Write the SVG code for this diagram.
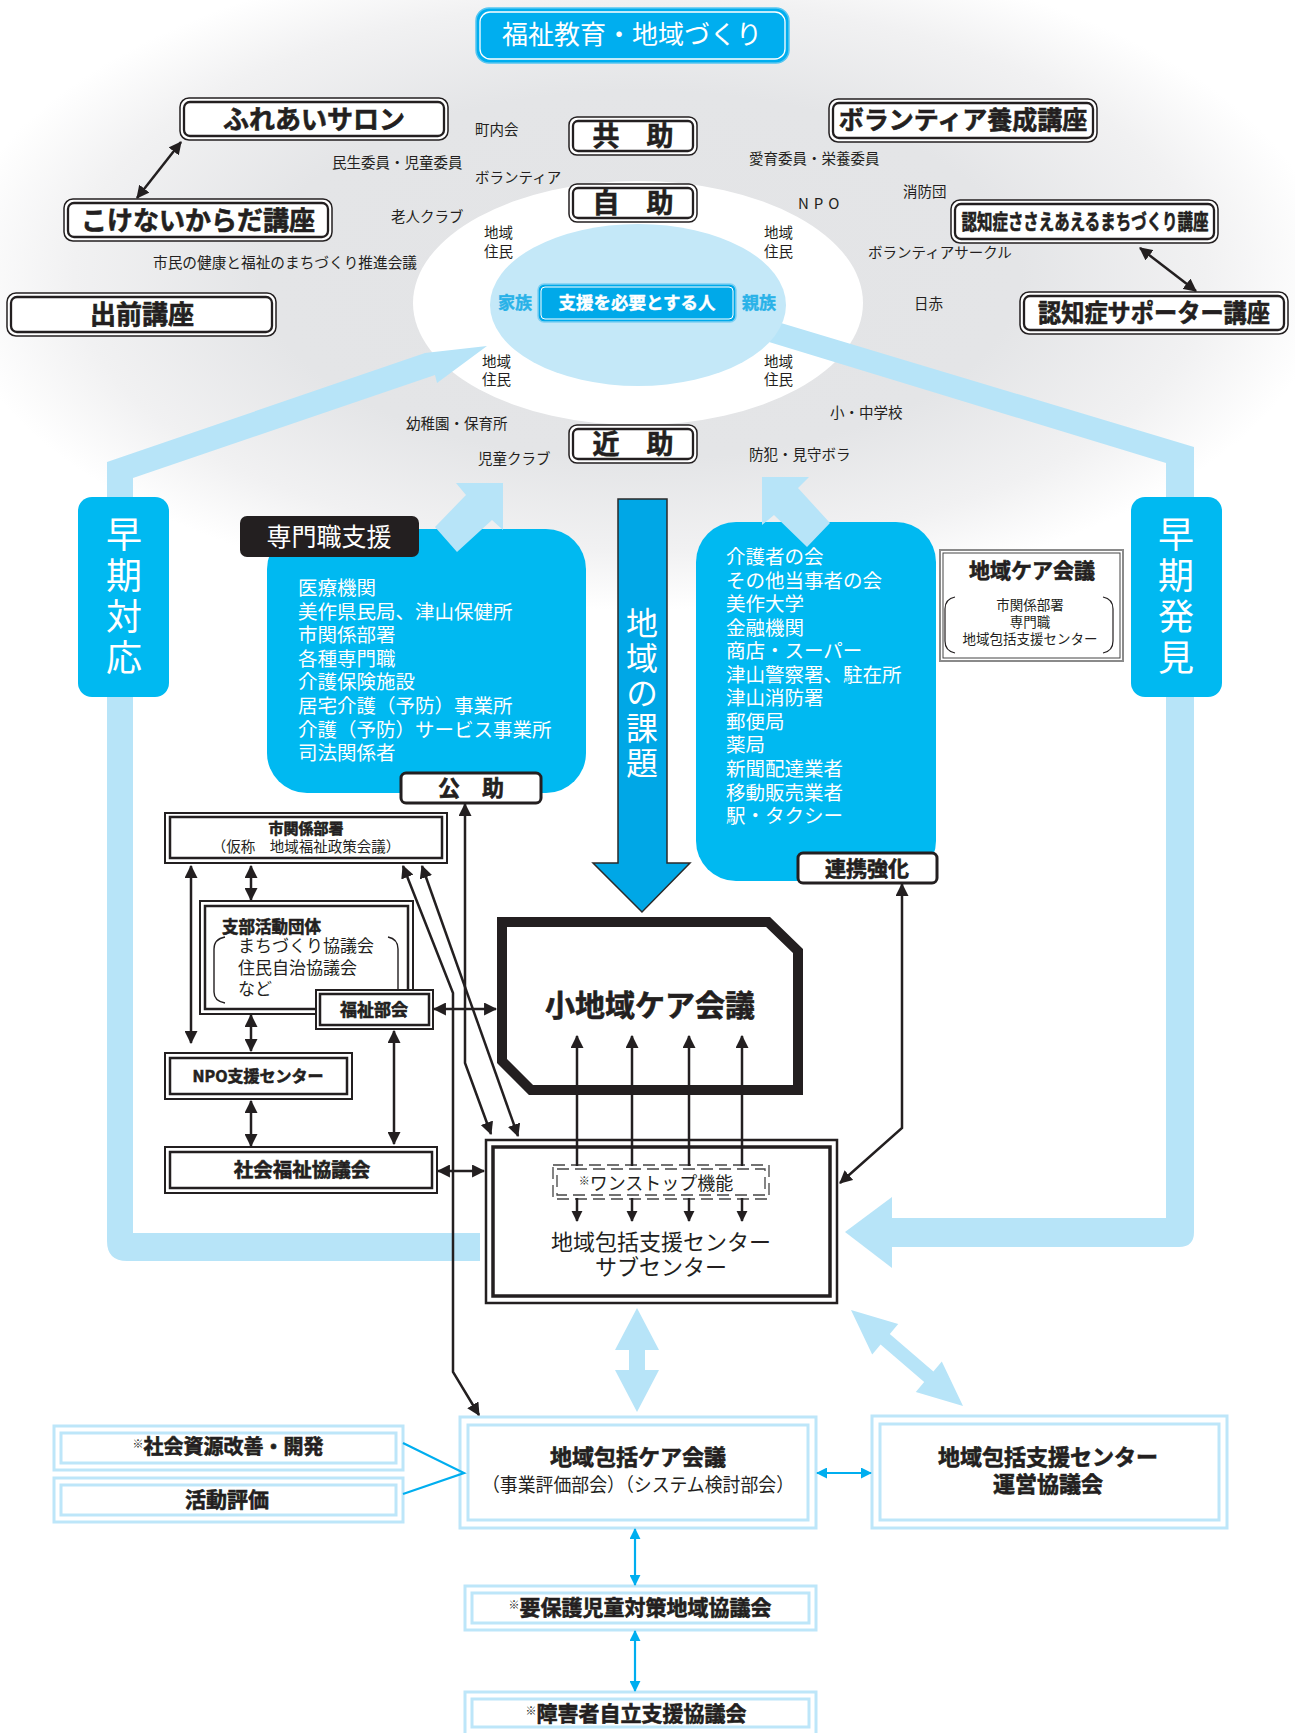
<svg xmlns="http://www.w3.org/2000/svg" width="1295" height="1733" viewBox="0 0 1295 1733">
<defs>
<radialGradient id="bgG" cx="0.5" cy="0.5" r="0.5">
<stop offset="0" stop-color="#e3e4e6"/><stop offset="0.55" stop-color="#e4e5e7"/><stop offset="0.82" stop-color="#f1f1f2"/><stop offset="1" stop-color="#ffffff"/>
</radialGradient>
<marker id="ab" viewBox="0 0 12 12" refX="11" refY="6" markerWidth="13" markerHeight="13" markerUnits="userSpaceOnUse" orient="auto-start-reverse"><path d="M0,0 L12,6 L0,12 Z" fill="#231f20"/></marker>
<marker id="as" viewBox="0 0 12 12" refX="11" refY="6" markerWidth="11" markerHeight="12" markerUnits="userSpaceOnUse" orient="auto-start-reverse"><path d="M0,0 L12,6 L0,12 Z" fill="#231f20"/></marker>
<marker id="ac" viewBox="0 0 12 12" refX="11" refY="6" markerWidth="11" markerHeight="11" markerUnits="userSpaceOnUse" orient="auto-start-reverse"><path d="M0,0 L12,6 L0,12 Z" fill="#00aeef"/></marker>
<style>
text{font-family:"Noto Sans CJK JP","Noto Sans",sans-serif;fill:#231f20}
.b{font-weight:700;stroke:#231f20;stroke-width:0.6}
.w{fill:#ffffff}
.m{text-anchor:middle}
.s{font-size:14.5px}
.v{writing-mode:vertical-rl;fill:#ffffff}
.o{fill:#ffffff;stroke:#231f20;stroke-width:1.5}
.i{fill:#ffffff;stroke:#231f20;stroke-width:2.3}
.ko{fill:#ffffff;stroke:#231f20;stroke-width:2}
.ki{fill:none;stroke:#231f20;stroke-width:2.5}
.lo{fill:#ffffff;stroke:#bde6f9;stroke-width:3}
.li{fill:none;stroke:#bde6f9;stroke-width:3}
.cy{fill:#00b9f1}
.lb{fill:#b7e4f8}
.ln{fill:none;stroke:#231f20;stroke-width:2.5;marker-start:url(#ab);marker-end:url(#ab)}
.lc{fill:none;stroke:#00aeef;stroke-width:2.2}
.lcd{fill:none;stroke:#00aeef;stroke-width:2.2;marker-start:url(#ac);marker-end:url(#ac)}
.dash{fill:none;stroke:#444;stroke-width:1.3;stroke-dasharray:12 6}
</style>
</defs>

<g id="background">
<rect x="0" y="0" width="1295" height="1733" fill="#ffffff"/>
<ellipse cx="640" cy="275" rx="690" ry="335" fill="url(#bgG)"/>
<ellipse cx="638" cy="303" rx="225" ry="122" fill="#ffffff"/>
</g>

<g id="bands">
<path class="lb" d="M480,1233 L133,1233 L133,478 L435,375 L437,383 L487,346 L425,353 L107,462 L107,1241 Q107,1261 127,1261 L480,1261 Z"/>
<path class="lb" d="M771,320 L1194,447 L1194,1232 Q1194,1247 1179,1247 L892,1247 L892,1218 L1166,1218 L1166,463 L769,342 Z"/>
<polygon class="lb" points="845,1232 892,1197 892,1268"/>
</g>

<g id="core">
<ellipse cx="638" cy="305" rx="148" ry="81" fill="#c4e8f8"/>
</g>

<g id="title">
<rect x="476" y="8" width="313" height="55" rx="13" fill="#00aeef" stroke="#55c6f1" stroke-width="1.5"/>
<rect x="480" y="12" width="305" height="47" rx="10" fill="none" stroke="#ffffff" stroke-width="1.3"/>
<text class="m w" x="632" y="44" font-size="26">福祉教育・地域づくり</text>
</g>

<g id="n-fureai"><rect class="o" x="180" y="98" width="268" height="42" rx="9"/><rect class="i" x="184" y="102" width="260" height="34" rx="6"/><text class="m b" x="314" y="129" font-size="26">ふれあいサロン</text></g>
<g id="n-kokenai"><rect class="o" x="64" y="199" width="268" height="42" rx="9"/><rect class="i" x="68" y="203" width="260" height="34" rx="6"/><text class="m b" x="198" y="229.5" font-size="26">こけないからだ講座</text></g>
<g id="n-demae"><rect class="o" x="7" y="293" width="269" height="43" rx="9"/><rect class="i" x="11" y="297" width="261" height="35" rx="6"/><text class="m b" x="142" y="323.5" font-size="26">出前講座</text></g>
<g id="n-volunteer"><rect class="o" x="829" y="99" width="268" height="43" rx="9"/><rect class="i" x="833" y="103" width="260" height="35" rx="6"/><text class="m b" x="963" y="129" font-size="25">ボランティア養成講座</text></g>
<g id="n-sasae"><rect class="o" x="951" y="200" width="267" height="43" rx="9"/><rect class="i" x="955" y="204" width="259" height="35" rx="6"/><text class="m b" x="1085" y="229" font-size="21" textLength="247" lengthAdjust="spacingAndGlyphs">認知症ささえあえるまちづくり講座</text></g>
<g id="n-supporter"><rect class="o" x="1020" y="292" width="268" height="42" rx="9"/><rect class="i" x="1024" y="296" width="260" height="34" rx="6"/><text class="m b" x="1154" y="322" font-size="25" textLength="232" lengthAdjust="spacingAndGlyphs">認知症サポーター講座</text></g>

<g id="n-kyojo"><rect class="o" x="569" y="117" width="128" height="38" rx="8"/><rect class="i" x="573" y="121" width="120" height="30" rx="5"/><text class="m b" x="633" y="145.5" font-size="27">共　助</text></g>
<g id="n-jijo"><rect class="o" x="569" y="184" width="128" height="38" rx="8"/><rect class="i" x="573" y="188" width="120" height="30" rx="5"/><text class="m b" x="633" y="212.5" font-size="27">自　助</text></g>
<g id="n-kinjo"><rect class="o" x="569" y="425" width="128" height="38" rx="8"/><rect class="i" x="573" y="429" width="120" height="30" rx="5"/><text class="m b" x="633" y="453.5" font-size="27">近　助</text></g>

<g id="n-person">
<rect x="538" y="284" width="198" height="38" rx="6" fill="#00a9e9" stroke="#7fd0f2" stroke-width="1.5"/>
<rect x="541" y="287" width="192" height="32" rx="4" fill="none" stroke="#ffffff" stroke-width="1"/>
<text class="m b" x="637" y="309.3" font-size="17.5" style="fill:#ffffff;stroke:#ffffff;stroke-width:0.4">支援を必要とする人</text>
<text class="m b" x="515" y="309" font-size="17" style="fill:#29b2e8;stroke:#29b2e8;stroke-width:0.4">家族</text>
<text class="m b" x="759" y="309" font-size="17" style="fill:#29b2e8;stroke:#29b2e8;stroke-width:0.4">親族</text>
</g>

<g id="labels">
<text class="s" x="475" y="135">町内会</text>
<text class="s" x="332" y="168">民生委員・児童委員</text>
<text class="s" x="475" y="183">ボランティア</text>
<text class="s" x="391" y="222">老人クラブ</text>
<text x="153" y="268" font-size="15" textLength="264" lengthAdjust="spacingAndGlyphs">市民の健康と福祉のまちづくり推進会議</text>
<text class="s" x="484" y="238">地域<tspan x="484" dy="19">住民</tspan></text>
<text class="s" x="764" y="238">地域<tspan x="764" dy="19">住民</tspan></text>
<text class="s" x="482" y="367">地域<tspan x="482" dy="18">住民</tspan></text>
<text class="s" x="764" y="367">地域<tspan x="764" dy="18">住民</tspan></text>
<text class="s" x="406" y="429">幼稚園・保育所</text>
<text class="s" x="478" y="464">児童クラブ</text>
<text class="s" x="749" y="164">愛育委員・栄養委員</text>
<text x="798" y="208.5" font-size="15" letter-spacing="5">NPO</text>
<text class="s" x="903" y="197">消防団</text>
<text class="s" x="868" y="258">ボランティアサークル</text>
<text class="s" x="914" y="309">日赤</text>
<text class="s" x="830" y="418">小・中学校</text>
<text class="s" x="749" y="460">防犯・見守ボラ</text>
</g>

<g id="n-soki-taio">
<rect class="cy" x="78" y="497" width="91" height="200" rx="14"/>
<text class="v" x="124" y="516" font-size="36" letter-spacing="5">早期対応</text>
</g>
<g id="n-soki-hakken">
<rect class="cy" x="1131" y="497" width="91" height="200" rx="14"/>
<text class="v" x="1176" y="516" font-size="36" letter-spacing="5">早期発見</text>
</g>

<g id="n-senmon">
<rect class="cy" x="267" y="529" width="319" height="264" rx="40"/>
<rect x="240" y="516" width="179" height="41" rx="7" fill="#231f20"/>
<text class="m w" x="329" y="546" font-size="25">専門職支援</text>
<text class="w" x="298" y="595" font-size="19.5">医療機関<tspan x="298" dy="23.6">美作県民局、津山保健所</tspan><tspan x="298" dy="23.6">市関係部署</tspan><tspan x="298" dy="23.6">各種専門職</tspan><tspan x="298" dy="23.6">介護保険施設</tspan><tspan x="298" dy="23.6">居宅介護（予防）事業所</tspan><tspan x="298" dy="23.6">介護（予防）サービス事業所</tspan><tspan x="298" dy="23.6">司法関係者</tspan></text>
</g>
<g id="n-koujo"><rect x="401" y="773" width="140" height="30" rx="5" fill="#ffffff" stroke="#231f20" stroke-width="3"/><text class="m b" x="471" y="796" font-size="22">公　助</text></g>

<g id="n-chiiki">
<rect class="cy" x="696" y="522" width="240" height="359" rx="40"/>
<text class="w" x="726" y="564" font-size="19.5">介護者の会<tspan x="726" dy="23.55">その他当事者の会</tspan><tspan x="726" dy="23.55">美作大学</tspan><tspan x="726" dy="23.55">金融機関</tspan><tspan x="726" dy="23.55">商店・スーパー</tspan><tspan x="726" dy="23.55">津山警察署、駐在所</tspan><tspan x="726" dy="23.55">津山消防署</tspan><tspan x="726" dy="23.55">郵便局</tspan><tspan x="726" dy="23.55">薬局</tspan><tspan x="726" dy="23.55">新聞配達業者</tspan><tspan x="726" dy="23.55">移動販売業者</tspan><tspan x="726" dy="23.55">駅・タクシー</tspan></text>
</g>
<g id="n-renkei"><rect x="798" y="853" width="139" height="30" rx="5" fill="#ffffff" stroke="#231f20" stroke-width="3"/><text class="m b" x="867" y="875.5" font-size="21">連携強化</text></g>

<g id="flow-arrows">
<polygon class="lb" points="435,527 466,495 456,483 503,483 503,530 492,520 457,552"/>
<polygon class="lb" points="762,477 809,477 798,488 830,523 807,547 774,515 762,525"/>
</g>

<g id="n-care-kaigi">
<rect x="940" y="550" width="183" height="111" fill="#ffffff" stroke="#8a8a8a" stroke-width="2"/>
<rect x="943" y="553" width="177" height="105" fill="none" stroke="#444" stroke-width="1"/>
<text class="m b" x="1032" y="577.5" font-size="21">地域ケア会議</text>
<text class="m" x="1030" y="610" font-size="13.5">市関係部署<tspan x="1030" dy="17">専門職</tspan><tspan x="1030" dy="17">地域包括支援センター</tspan></text>
<path d="M955,597 Q945,599 945,609 L945,641 Q945,651 955,653" fill="none" stroke="#231f20" stroke-width="1.2"/>
<path d="M1103,597 Q1113,599 1113,609 L1113,641 Q1113,651 1103,653" fill="none" stroke="#231f20" stroke-width="1.2"/>
</g>

<g id="n-kadai">
<polygon points="618,499 667,499 667,863 690,863 642,912 593,863 618,863" fill="#00a7e6" stroke="#2a2a2a" stroke-width="1.5"/>
<text class="v" x="642" y="607" font-size="32" letter-spacing="3">地域の課題</text>
</g>

<g id="n-shochiiki">
<path d="M502,922 L768,922 L798,951 L798,1090 L531,1090 L502,1061 Z" fill="#ffffff" stroke="#231f20" stroke-width="10" stroke-linejoin="miter"/>
<text class="m b" x="650" y="1016" font-size="30">小地域ケア会議</text>
</g>

<g id="n-subcenter">
<rect x="486" y="1140" width="351" height="163" fill="#ffffff" stroke="#231f20" stroke-width="2.5"/>
<rect x="493" y="1147" width="337" height="149" fill="none" stroke="#231f20" stroke-width="3.5"/>
<rect class="dash" x="553" y="1165" width="216" height="34"/>
<rect class="dash" x="557" y="1169" width="208" height="26"/>
<text class="m" x="656" y="1189.5" font-size="18"><tspan font-size="11" dy="-5">※</tspan><tspan dy="5">ワンストップ機能</tspan></text>
<text class="m" x="661" y="1250" font-size="22">地域包括支援センター<tspan x="661" dy="25">サブセンター</tspan></text>
</g>

<g id="n-shikankei">
<rect class="ko" x="165" y="813" width="282" height="50"/><rect class="ki" x="170" y="817" width="272" height="41"/>
<text class="m" x="306" y="834.4" font-size="15"><tspan class="b" stroke-width="0.4">市関係部署</tspan><tspan x="306" dy="17.8" font-size="14.5">（仮称　地域福祉政策会議）</tspan></text>
</g>
<g id="n-shibu">
<rect class="ko" x="200" y="901" width="213" height="113"/><rect class="ki" x="205" y="906" width="203" height="103"/>
<text x="222" y="933" font-size="17"><tspan class="b" font-size="16.5" stroke-width="0.4">支部活動団体</tspan><tspan x="238" dy="19">まちづくり協議会</tspan><tspan x="238" dy="22">住民自治協議会</tspan><tspan x="238" dy="21">など</tspan></text>
<path d="M225,937 Q214,939 214,949 L214,992 Q214,1001 225,1003" fill="none" stroke="#231f20" stroke-width="1.4"/>
<path d="M388,937 Q398,939 398,949 L398,992" fill="none" stroke="#231f20" stroke-width="1.4"/>
</g>
<g id="n-fukushibukai">
<rect class="ko" x="316" y="990" width="117" height="39"/><rect class="ki" x="320" y="994" width="109" height="31"/>
<text class="m b" x="374" y="1016" font-size="17">福祉部会</text>
</g>
<g id="n-npo">
<rect class="ko" x="165" y="1053" width="187" height="46"/><rect class="ki" x="170" y="1058" width="177" height="36"/>
<text class="m b" x="258" y="1082" font-size="16">NPO支援センター</text>
</g>
<g id="n-shakyo">
<rect class="ko" x="165" y="1147" width="272" height="46"/><rect class="ki" x="170" y="1152" width="262" height="36"/>
<text class="m b" x="302" y="1177" font-size="19.5">社会福祉協議会</text>
</g>

<g id="n-shigen"><rect class="lo" x="54" y="1426" width="349" height="44"/><rect class="li" x="61" y="1433" width="335" height="30"/>
<text class="m b" x="228" y="1454" font-size="20"><tspan font-size="11" dy="-6" stroke-width="0">※</tspan><tspan dy="6">社会資源改善・開発</tspan></text></g>
<g id="n-hyoka"><rect class="lo" x="54" y="1478" width="349" height="44"/><rect class="li" x="61" y="1485" width="335" height="30"/>
<text class="m b" x="227" y="1506.5" font-size="21">活動評価</text></g>
<g id="n-houkatsu-care"><rect class="lo" x="460" y="1417" width="356" height="111"/><rect class="li" x="468" y="1425" width="340" height="95"/>
<text class="m" x="638" y="1465" font-size="22"><tspan class="b">地域包括ケア会議</tspan><tspan x="638" dy="27" font-size="19" textLength="312" lengthAdjust="spacingAndGlyphs">（事業評価部会）（システム検討部会）</tspan></text></g>
<g id="n-unei"><rect class="lo" x="872" y="1416" width="355" height="112"/><rect class="li" x="880" y="1424" width="339" height="96"/>
<text class="m b" x="1048" y="1465" font-size="22">地域包括支援センター<tspan x="1048" dy="27">運営協議会</tspan></text></g>
<g id="n-yohogo"><rect class="lo" x="465" y="1586" width="351" height="44"/><rect class="li" x="472" y="1593" width="337" height="30"/>
<text class="m b" x="640" y="1614.5" font-size="21"><tspan font-size="11" dy="-6" stroke-width="0">※</tspan><tspan dy="6">要保護児童対策地域協議会</tspan></text></g>
<g id="n-shogai"><rect class="lo" x="465" y="1692" width="351" height="50"/><rect class="li" x="472" y="1699" width="337" height="28"/>
<text class="m b" x="636" y="1720.5" font-size="21"><tspan font-size="11" dy="-6" stroke-width="0">※</tspan><tspan dy="6">障害者自立支援協議会</tspan></text></g>

<g id="connectors">
<line class="ln" x1="181" y1="142" x2="137" y2="198"/>
<line class="ln" x1="1140" y1="248" x2="1196" y2="291"/>
<line class="ln" x1="191" y1="866" x2="191" y2="1043"/>
<line class="ln" x1="251" y1="866" x2="251" y2="900"/>
<line class="ln" x1="251" y1="1015" x2="251" y2="1051"/>
<line class="ln" x1="251" y1="1101" x2="251" y2="1146"/>
<line class="ln" x1="394" y1="1031" x2="394" y2="1144"/>
<line class="ln" x1="434" y1="1009" x2="496" y2="1009"/>
<line class="ln" x1="438" y1="1171" x2="484" y2="1171"/>
<path class="ln" d="M403,866 L453,993 L453,1372 L479,1415"/>
<path class="ln" d="M422,866 L518,1136"/>
<path class="ln" d="M465,804 L465,1063 L491,1134"/>
<path class="ln" d="M902,884 L902,1128 L840,1183"/>
<g stroke="#231f20" stroke-width="2.5" fill="none" marker-end="url(#ab)">
<line x1="577" y1="1166" x2="577" y2="1036"/>
<line x1="632" y1="1166" x2="632" y2="1036"/>
<line x1="689" y1="1166" x2="689" y2="1036"/>
<line x1="742" y1="1166" x2="742" y2="1036"/>
</g>
<g stroke="#231f20" stroke-width="2.5" fill="none" marker-end="url(#as)">
<line x1="577" y1="1198" x2="577" y2="1221"/>
<line x1="632" y1="1198" x2="632" y2="1221"/>
<line x1="689" y1="1198" x2="689" y2="1221"/>
<line x1="742" y1="1198" x2="742" y2="1221"/>
</g>
<polygon class="lb" points="637,1308 659,1350 645,1350 645,1370 659,1370 637,1412 615,1370 629,1370 629,1350 615,1350"/>
<polygon class="lb" points="851,1310 898.2,1324.1 889.8,1334 933.4,1371.4 941.8,1361.5 963,1406 915.8,1391.9 924.2,1382 880.6,1344.6 872.2,1354.5"/>
<polyline class="lc" points="403,1443 464,1473 403,1494"/>
<line class="lcd" x1="817" y1="1473" x2="871" y2="1473"/>
<line class="lcd" x1="635" y1="1529" x2="635" y2="1585"/>
<line class="lcd" x1="635" y1="1631" x2="635" y2="1691"/>
</g>
</svg>
